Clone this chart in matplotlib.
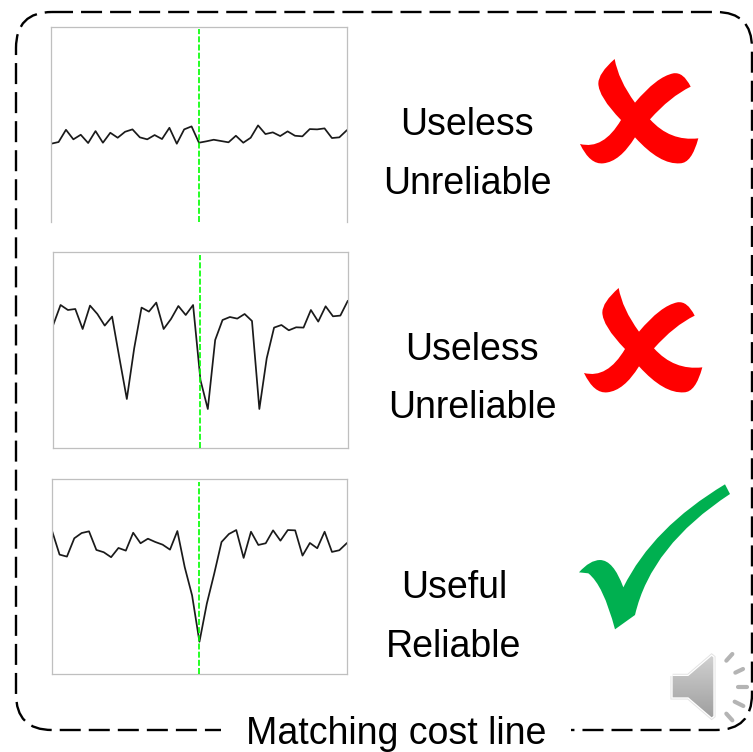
import numpy as np
import matplotlib
matplotlib.use("Agg")
import matplotlib.pyplot as plt
from matplotlib.patches import FancyBboxPatch, PathPatch
from matplotlib.path import Path

plt.rcParams['font.family'] = ['Liberation Sans', 'DejaVu Sans']

W, H = 753, 752

# matching cost (41 disparities, y range 0-196)
cost_flat = [78.3, 80, 92.3, 82.7, 87.3, 79, 91, 79.3, 89.3, 84.3, 90.3, 92.7, 84.7, 82.7,
             87, 83, 94.3, 78.3, 92.7, 95.7, 79.3, 80.7, 82.3, 81, 79.7, 86.3, 79.3, 84.3,
             96.7, 88, 89.7, 86, 90.7, 86.3, 85.7, 93, 92.7, 93.7, 84, 84.7, 91.7]
cost_multi = [123.3, 143.3, 138.3, 139.3, 119.3, 142.7, 134.3, 122.7, 131.7, 90, 49.3, 100,
              140.7, 136.7, 145.7, 119.3, 129.3, 142.3, 133.3, 143.3, 68.3, 39.3, 108.3,
              128.3, 131.3, 129.7, 134.3, 127.3, 39.3, 90, 120.7, 123.3, 118, 121, 120.7,
              138.3, 126.7, 142, 132, 132.7, 147.3]
cost_single = [143.7, 120.3, 118.3, 136.7, 142, 143.7, 125, 122.7, 117.7, 127, 124.3, 142.3,
               131.7, 136.3, 133, 130.3, 125.3, 144, 107.7, 79.3, 32.7, 71, 101, 133, 141,
               145, 117, 143.3, 130, 131.7, 144.7, 134.3, 145, 144.7, 119.3, 132, 126.7,
               143.3, 123, 124.7, 131.7]
true_disparity = 20

labels_flat = ["Useless", "Unreliable"]
labels_multi = ["Useless", "Unreliable"]
labels_single = ["Useful", "Reliable"]
caption = "Matching cost line"


def panel_axes(fig, left, top, right, bottom):
    return fig.add_axes([left / W, 1 - bottom / H, (right - left) / W, (bottom - top) / H])


def draw_panel(fig, box, cost, show_bottom=True):
    ax = panel_axes(fig, *box)
    ax.plot(np.arange(len(cost)), cost, color="#1a1a1a", lw=1.25)
    ax.plot([true_disparity, true_disparity], [0, 193], color="#00ff00", lw=1.2,
            linestyle=(0, (3.6, 1.3)), zorder=3)
    ax.set_xlim(0, len(cost) - 1)
    ax.set_ylim(0, 196)
    ax.set_xticks([])
    ax.set_yticks([])
    for s in ax.spines.values():
        s.set_color("#bfbfbf")
        s.set_linewidth(0.9)
    if not show_bottom:
        ax.spines["bottom"].set_visible(False)
    return ax


def cross_path(dx, dy):
    M, C = Path.MOVETO, Path.CURVE3
    pts = [(134, 27), (145, 90), (195, 158), (260, 80), (310, 70), (340, 65), (362, 110),
           (300, 140), (240, 208), (300, 275), (385, 265), (365, 340), (330, 340),
           (270, 345), (195, 262), (150, 335), (100, 340), (60, 345), (30, 282),
           (100, 300), (153, 210), (85, 140), (85, 100), (85, 70), (134, 27)]
    codes = [M] + [C] * 24
    xy = [(570 + x / 3 + dx, 50 + y / 3 + dy) for x, y in pts]
    return Path(xy, codes)


def check_path():
    M, L, C = Path.MOVETO, Path.LINETO, Path.CURVE3
    pts = [(495, 43), (510, 72), (273, 227), (225, 435), (165, 478), (130, 345), (85, 310),
           (57, 307), (90, 270), (120, 270), (160, 270), (190, 352), (278, 173), (495, 43)]
    codes = [M, L, C, C, L, C, C, L, C, C, C, C, C, C]
    xy = [(560 + x / 3, 470 + y / 3) for x, y in pts]
    return Path(xy, codes)


def draw_speaker(ov):
    pts = [(338, 618), (385, 618), (455, 558), (460, 562), (460, 738), (455, 742),
           (385, 682), (338, 682), (338, 618)]
    xy = [(560 + x / 3, 470 + y / 3) for x, y in pts]
    p = Path(xy)
    ov.add_patch(PathPatch(p, fc="none", ec="#e4e4e4", lw=3.2, zorder=5))
    ov.add_patch(PathPatch(p, fc="none", ec="white", lw=1.8, zorder=5))
    grad = np.linspace(0.82, 0.62, 64).reshape(-1, 1)
    im = ov.imshow(grad, cmap="gray", vmin=0, vmax=1, aspect="auto", zorder=6,
                   extent=(670, 716, 718, 655))
    clip = PathPatch(p, transform=ov.transData)
    im.set_clip_path(clip)
    rays = [((499, 572), (517, 552)), ((526, 608), (549, 597)), ((534, 650), (562, 650)),
            ((524, 695), (550, 708)), ((499, 731), (517, 751))]
    for a, b in rays:
        xs = [560 + a[0] / 3, 560 + b[0] / 3]
        ys = [470 + a[1] / 3, 470 + b[1] / 3]
        ov.plot(xs, ys, color="white", lw=5, solid_capstyle="round", zorder=5)
        ov.plot(xs, ys, color="#b4b4b4", lw=3, solid_capstyle="round", zorder=6)


fig = plt.figure(figsize=(W / 100, H / 100), dpi=100, facecolor="white")

# overlay in pixel coordinates for the frame, text and icons
ov = fig.add_axes([0, 0, 1, 1], zorder=5)
ov.patch.set_alpha(0)
ov.axis("off")

ov.add_patch(FancyBboxPatch((16, 12), 736, 718, boxstyle="round,pad=0,rounding_size=36",
                            fc="none", ec="black", lw=1.7, linestyle=(0, (8.9, 3.4)),
                            clip_on=False))

draw_panel(fig, (51.2, 26.5, 346.7, 221.7), cost_flat, show_bottom=False)
draw_panel(fig, (53.2, 252.3, 347.7, 448.3), cost_multi)
draw_panel(fig, (52.2, 479.3, 346.7, 674.3), cost_single)

fs = 27
ov.text(467, 125, labels_flat[0], fontsize=fs, ha="center", va="center")
ov.text(467, 184, labels_flat[1], fontsize=fs, ha="center", va="center")
ov.text(472, 350, labels_multi[0], fontsize=fs, ha="center", va="center")
ov.text(472, 408, labels_multi[1], fontsize=fs, ha="center", va="center")
ov.text(454, 588, labels_single[0], fontsize=fs, ha="center", va="center")
ov.text(454, 647, labels_single[1], fontsize=fs, ha="center", va="center")
ov.text(396, 734, caption, fontsize=fs, ha="center", va="center", zorder=4,
        bbox=dict(fc="white", ec="none", pad=18))

ov.add_patch(PathPatch(cross_path(0, 0), fc="#ff0000", ec="none"))
ov.add_patch(PathPatch(cross_path(4, 229), fc="#ff0000", ec="none"))
ov.add_patch(PathPatch(check_path(), fc="#00b050", ec="none"))
draw_speaker(ov)

ov.set_xlim(0, W)
ov.set_ylim(H, 0)

fig.savefig("out.png", dpi=100)
